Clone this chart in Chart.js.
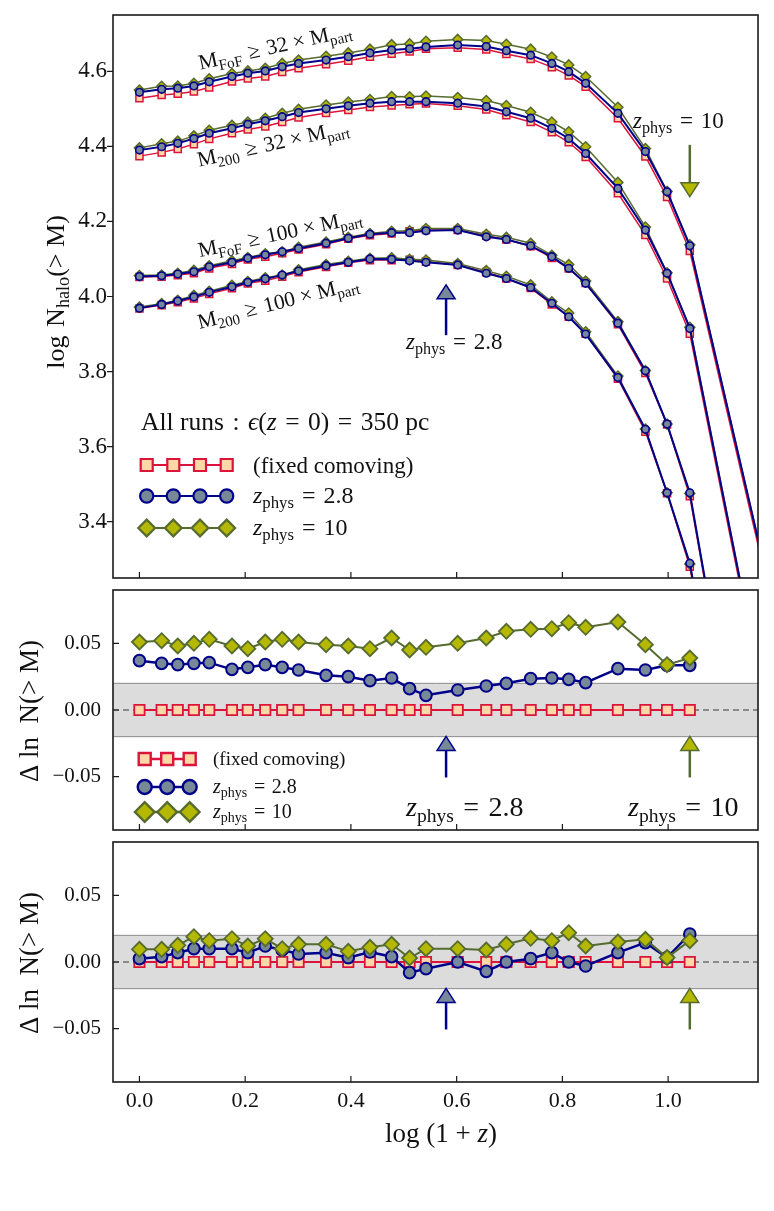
<!DOCTYPE html>
<html>
<head>
<meta charset="utf-8">
<script src="https://cdn.jsdelivr.net/npm/chart.js@4.4.0/dist/chart.umd.min.js"></script>
<style>
  body { margin: 0; background: #fff; width: 774px; height: 1211px; position: relative; overflow: hidden; }
  canvas { position: absolute; left: 0; top: 0; }
</style>
</head>
<body>
<canvas id="topChart" width="774" height="1211"></canvas>
<canvas id="midChart" width="774" height="1211"></canvas>
<canvas id="botChart" width="774" height="1211"></canvas>
<script>
// snapshot positions, log(1+z); the last one of the top panel lies beyond the frame
const logZ = [0, 0.042, 0.0725, 0.103, 0.132, 0.175, 0.205, 0.238, 0.270, 0.301, 0.353, 0.395, 0.436, 0.477,
              0.511, 0.542, 0.602, 0.656, 0.694, 0.740, 0.780, 0.812, 0.844, 0.905, 0.957, 0.998, 1.041];
const logZTop = logZ.concat([1.23]);

// top panel: log N_halo(>M)
const fof32Comov = [4.528, 4.537, 4.540, 4.546, 4.557, 4.573, 4.581, 4.586, 4.598, 4.608, 4.619, 4.628, 4.639, 4.647,
                    4.653, 4.660, 4.663, 4.658, 4.646, 4.633, 4.611, 4.589, 4.559, 4.475, 4.373, 4.265, 4.121, 2.975];
const fof32Z28   = [4.544, 4.552, 4.555, 4.561, 4.572, 4.586, 4.595, 4.601, 4.612, 4.621, 4.630, 4.639, 4.649, 4.657,
                    4.660, 4.665, 4.670, 4.666, 4.655, 4.643, 4.621, 4.599, 4.568, 4.488, 4.386, 4.279, 4.135, 2.990];
const fof32Z10   = [4.550, 4.560, 4.561, 4.568, 4.580, 4.594, 4.601, 4.608, 4.621, 4.630, 4.640, 4.649, 4.659, 4.671,
                    4.673, 4.680, 4.685, 4.682, 4.672, 4.659, 4.638, 4.617, 4.586, 4.504, 4.394, 4.280, 4.138, 2.992];

const m200_32Comov = [4.374, 4.384, 4.393, 4.406, 4.420, 4.435, 4.445, 4.453, 4.465, 4.477, 4.489, 4.497, 4.505, 4.509,
                      4.512, 4.514, 4.508, 4.498, 4.483, 4.465, 4.438, 4.411, 4.372, 4.275, 4.164, 4.048, 3.901, 2.566];
const m200_32Z28   = [4.390, 4.399, 4.408, 4.421, 4.435, 4.448, 4.459, 4.468, 4.479, 4.490, 4.500, 4.508, 4.515, 4.519,
                      4.519, 4.519, 4.515, 4.506, 4.492, 4.475, 4.448, 4.421, 4.381, 4.288, 4.177, 4.062, 3.915, 2.580];
const m200_32Z10   = [4.396, 4.407, 4.414, 4.428, 4.443, 4.456, 4.465, 4.475, 4.488, 4.499, 4.510, 4.518, 4.525, 4.533,
                      4.532, 4.534, 4.530, 4.522, 4.509, 4.491, 4.465, 4.439, 4.399, 4.304, 4.185, 4.063, 3.918, 2.583];

const fof100Comov = [4.052, 4.053, 4.057, 4.062, 4.075, 4.087, 4.099, 4.106, 4.115, 4.125, 4.139, 4.154, 4.163, 4.168,
                     4.174, 4.177, 4.177, 4.162, 4.152, 4.134, 4.103, 4.075, 4.036, 3.926, 3.796, 3.659, 3.468, 1.951];
const fof100Z28   = [4.053, 4.055, 4.060, 4.066, 4.079, 4.091, 4.102, 4.111, 4.119, 4.128, 4.142, 4.155, 4.166, 4.170,
                     4.170, 4.175, 4.177, 4.159, 4.152, 4.135, 4.106, 4.075, 4.035, 3.929, 3.802, 3.660, 3.477, 1.960];
const fof100Z10   = [4.056, 4.057, 4.062, 4.070, 4.082, 4.095, 4.104, 4.114, 4.119, 4.131, 4.145, 4.158, 4.168, 4.174,
                     4.175, 4.181, 4.181, 4.166, 4.158, 4.142, 4.110, 4.085, 4.041, 3.933, 3.803, 3.660, 3.475, 1.958];

const m200_100Comov = [3.968, 3.977, 3.985, 3.995, 4.007, 4.022, 4.035, 4.042, 4.053, 4.065, 4.079, 4.090, 4.097, 4.097,
                       4.098, 4.093, 4.084, 4.065, 4.048, 4.023, 3.979, 3.946, 3.901, 3.781, 3.640, 3.476, 3.280, 1.841];
const m200_100Z28   = [3.969, 3.979, 3.988, 3.999, 4.011, 4.026, 4.038, 4.047, 4.057, 4.068, 4.082, 4.091, 4.100, 4.099,
                       4.095, 4.091, 4.084, 4.062, 4.048, 4.024, 3.982, 3.946, 3.900, 3.784, 3.646, 3.477, 3.289, 1.850];
const m200_100Z10   = [3.972, 3.981, 3.990, 4.003, 4.014, 4.030, 4.040, 4.050, 4.057, 4.071, 4.085, 4.094, 4.102, 4.103,
                       4.099, 4.097, 4.088, 4.069, 4.054, 4.031, 3.986, 3.956, 3.906, 3.788, 3.647, 3.477, 3.287, 1.848];

// middle panel: Delta ln N(>M)
const midComov = [0, 0, 0, 0, 0, 0, 0, 0, 0, 0, 0, 0, 0, 0, 0, 0, 0, 0, 0, 0, 0, 0, 0, 0, 0, 0, 0];
const midZ28 = [0.037, 0.035, 0.034, 0.035, 0.0355, 0.0305, 0.032, 0.034, 0.032, 0.030, 0.026, 0.025, 0.022, 0.024,
                0.016, 0.011, 0.015, 0.018, 0.020, 0.0235, 0.024, 0.023, 0.0205, 0.031, 0.030, 0.0335, 0.0335];
const midZ10 = [0.051, 0.052, 0.048, 0.050, 0.053, 0.048, 0.046, 0.051, 0.053, 0.051, 0.049, 0.048, 0.046, 0.054,
                0.045, 0.047, 0.050, 0.054, 0.059, 0.0605, 0.061, 0.0655, 0.062, 0.066, 0.049, 0.034, 0.039];

// bottom panel: Delta ln N(>M)
const botComov = [0, 0, 0, 0, 0, 0, 0, 0, 0, 0, 0, 0, 0, 0, 0, 0, 0, 0, 0, 0, 0, 0, 0, 0, 0, 0, 0];
const botZ28 = [0.0025, 0.004, 0.007, 0.010, 0.010, 0.010, 0.007, 0.012, 0.009, 0.006, 0.007, 0.0033, 0.0075, 0.004,
                -0.008, -0.005, 0.000, -0.007, 0.000, 0.0025, 0.007, 0.000, -0.003, 0.007, 0.0145, 0.0033, 0.021];
const botZ10 = [0.0095, 0.0095, 0.0125, 0.019, 0.016, 0.0175, 0.012, 0.0175, 0.010, 0.0133, 0.0133, 0.008, 0.011, 0.0133,
                0.003, 0.010, 0.010, 0.009, 0.0133, 0.0178, 0.016, 0.022, 0.012, 0.015, 0.017, 0.0033, 0.016];

// ticks
const xTicks = [0, 0.2, 0.4, 0.6, 0.8, 1.0];
const topYTicks = [3.4, 3.6, 3.8, 4.0, 4.2, 4.4, 4.6];
const resYTicks = [-0.05, 0, 0.05];

// markers for z_phys (log(1+z)) and the arrows: [tip, tail]
const zPhys28 = 0.58;
const zPhys10 = 1.041;
const topArrow28 = [4.031, 3.897];
const topArrow10 = [4.266, 4.404];
const resArrow = [-0.0198, -0.0506];
const BAND = 0.02;

const FONT = '"Liberation Serif", "Times New Roman", serif';
const SP = '\u2004'; // a bit wider than a space, like TeX math spacing

const STY = {
  comov: { line: '#dc143c', fill: '#fed8a6', shape: 'rect' },
  z28: { line: '#00008b', fill: '#778899', shape: 'circle' },
  z10: { line: '#556b2f', fill: '#b5b800', shape: 'rectRot' }
};

function series(xs, ys, st, lw, r, pbw, order) {
  return {
    data: xs.map((x, i) => ({ x: x, y: ys[i] })),
    showLine: true,
    borderColor: st.line,
    backgroundColor: st.fill,
    pointBorderColor: st.line,
    pointBackgroundColor: st.fill,
    borderWidth: lw,
    pointStyle: st.shape,
    pointRadius: r,
    pointBorderWidth: pbw,
    order: order
  };
}

function fontFor(kind, size) {
  let s = kind === 's' ? size * 0.7 : size;
  return (kind === 'i' ? 'italic ' : '') + s.toFixed(1) + 'px ' + FONT;
}

// parts: [text, 'r' | 'i' | 's'] ; y is the vertical middle of the text
function drawRich(ctx, parts, x, y, size, align, angleDeg) {
  ctx.save();
  ctx.translate(x, y);
  ctx.rotate((angleDeg || 0) * Math.PI / 180);
  ctx.fillStyle = '#111';
  ctx.textBaseline = 'alphabetic';
  ctx.textAlign = 'left';
  let w = 0;
  parts.forEach(p => { ctx.font = fontFor(p[1], size); w += ctx.measureText(p[0]).width; });
  let cx = align === 'center' ? -w / 2 : (align === 'right' ? -w : 0);
  parts.forEach(p => {
    ctx.font = fontFor(p[1], size);
    let dy = p[1] === 's' ? size * 0.22 : 0;
    ctx.fillText(p[0], cx, size * 0.33 + dy);
    cx += ctx.measureText(p[0]).width;
  });
  ctx.restore();
}

function drawArrow(ctx, px, tipY, tailY, st) {
  let dir = tipY > tailY ? 1 : -1;
  let baseY = tipY - dir * 14;
  ctx.save();
  ctx.strokeStyle = st.line;
  ctx.lineWidth = 2.5;
  ctx.beginPath();
  ctx.moveTo(px, tailY);
  ctx.lineTo(px, baseY);
  ctx.stroke();
  ctx.beginPath();
  ctx.moveTo(px, tipY);
  ctx.lineTo(px - 9, baseY);
  ctx.lineTo(px + 9, baseY);
  ctx.closePath();
  ctx.fillStyle = st.fill;
  ctx.fill();
  ctx.lineWidth = 1.5;
  ctx.stroke();
  ctx.restore();
}

function legendRow(ctx, st, xs, y, r, lw) {
  ctx.save();
  ctx.strokeStyle = st.line;
  ctx.lineWidth = lw;
  ctx.beginPath();
  ctx.moveTo(xs[0], y);
  ctx.lineTo(xs[xs.length - 1], y);
  ctx.stroke();
  ctx.fillStyle = st.fill;
  xs.forEach(x => Chart.helpers.drawPoint(ctx, { pointStyle: st.shape, radius: r, rotation: 0, borderWidth: lw }, x, y));
  ctx.restore();
}

const zLabel = v => [['z', 'i'], ['phys', 's'], [SP + '=' + SP + v, 'r']];
const massLabel = (kind, n) => [['M', 'r'], [kind, 's'], [SP + '\u2265' + SP + n + ' \u00d7 M', 'r'], ['part', 's']];

const bandPlugin = {
  id: 'band',
  beforeDatasetsDraw(chart) {
    const { ctx, chartArea: a, scales: { y } } = chart;
    let t = y.getPixelForValue(BAND), b = y.getPixelForValue(-BAND), z = y.getPixelForValue(0);
    ctx.save();
    ctx.fillStyle = '#dcdcdc';
    ctx.fillRect(a.left, t, a.right - a.left, b - t);
    ctx.strokeStyle = '#8a8a8a';
    ctx.lineWidth = 1;
    ctx.beginPath();
    ctx.moveTo(a.left, t); ctx.lineTo(a.right, t);
    ctx.moveTo(a.left, b); ctx.lineTo(a.right, b);
    ctx.stroke();
    ctx.strokeStyle = '#707070';
    ctx.lineWidth = 1.5;
    ctx.setLineDash([6, 4]);
    ctx.beginPath();
    ctx.moveTo(a.left, z); ctx.lineTo(a.right, z);
    ctx.stroke();
    ctx.restore();
  }
};

// frame and tick marks; yDir = 1 draws the y ticks inward, -1 outward
function framePlugin(yTicks, yDir) {
  return {
    id: 'frame',
    afterDatasetsDraw(chart) {
      const { ctx, chartArea: a, scales: { x, y } } = chart;
      ctx.save();
      ctx.strokeStyle = '#1a1a1a';
      ctx.lineWidth = 1.2;
      ctx.beginPath();
      xTicks.forEach(v => { let px = x.getPixelForValue(v); ctx.moveTo(px, a.bottom); ctx.lineTo(px, a.bottom - 6); });
      yTicks.forEach(v => { let py = y.getPixelForValue(v); ctx.moveTo(a.left, py); ctx.lineTo(a.left + 6 * yDir, py); });
      ctx.stroke();
      ctx.lineWidth = 1.6;
      ctx.strokeRect(a.left, a.top, a.right - a.left, a.bottom - a.top);
      ctx.restore();
    }
  };
}

function notesPlugin(draw) {
  return { id: 'notes', afterDraw(chart) { draw(chart.ctx, chart.scales.x, chart.scales.y); } };
}

function makeChart(id, datasets, yAxis, yTicks, yDir, padding, xAxis, extraPlugins) {
  return new Chart(document.getElementById(id), {
    type: 'scatter',
    data: { datasets: datasets },
    options: {
      responsive: false,
      animation: false,
      events: [],
      layout: { autoPadding: false, padding: padding },
      scales: {
        x: Object.assign({
          type: 'linear', min: -0.05, max: 1.17,
          grid: { display: false, drawTicks: false },
          border: { display: false },
          afterBuildTicks: s => { s.ticks = xTicks.map(v => ({ value: v })); }
        }, xAxis),
        y: Object.assign({
          type: 'linear',
          grid: { display: false, drawTicks: false },
          border: { display: false },
          afterBuildTicks: s => { s.ticks = yTicks.map(v => ({ value: v })); },
          // fixed axis width, no extra room for the end labels
          afterFit: s => { s.width = 113; s.paddingTop = 0; s.paddingBottom = 0; }
        }, yAxis)
      },
      plugins: { legend: { display: false }, tooltip: { enabled: false } }
    },
    plugins: extraPlugins.concat([framePlugin(yTicks, yDir)])
  });
}

const resFmt = v => (v < 0 ? '\u2212' : '') + Math.abs(v).toFixed(2);
const resYAxis = {
  min: -0.09, max: 0.09,
  ticks: { callback: resFmt, color: '#111', padding: 12, font: { family: FONT, size: 21 } }
};

// ---------- top panel ----------
const topSets = [];
[[fof32Comov, fof32Z28, fof32Z10], [m200_32Comov, m200_32Z28, m200_32Z10],
 [fof100Comov, fof100Z28, fof100Z10], [m200_100Comov, m200_100Z28, m200_100Z10]].forEach(g => {
  topSets.push(series(logZTop, g[0], STY.comov, 1.5, 5, 1.5, 3));
  topSets.push(series(logZTop, g[2], STY.z10, 1.5, 5, 1.5, 2));
  topSets.push(series(logZTop, g[1], STY.z28, 2, 3.8, 1.6, 1));
});

makeChart('topChart', topSets, {
    min: 3.25, max: 4.75,
    ticks: { callback: v => v.toFixed(1), color: '#111', padding: 6, font: { family: FONT, size: 23 } }
  }, topYTicks, -1,
  { left: 0, right: 16, top: 15, bottom: 633 }, { display: false },
  [notesPlugin((ctx, x, y) => {
    drawRich(ctx, massLabel('FoF', '32'), 275, 46, 21.5, 'center', -12.5);
    drawRich(ctx, massLabel('200', '32'), 273, 143, 21.5, 'center', -12.5);
    drawRich(ctx, massLabel('FoF', '100'), 280, 233, 21.5, 'center', -12);
    drawRich(ctx, massLabel('200', '100'), 278, 302, 21.5, 'center', -14);
    drawArrow(ctx, x.getPixelForValue(zPhys28), y.getPixelForValue(topArrow28[0]), y.getPixelForValue(topArrow28[1]), STY.z28);
    drawArrow(ctx, x.getPixelForValue(zPhys10), y.getPixelForValue(topArrow10[0]), y.getPixelForValue(topArrow10[1]), STY.z10);
    drawRich(ctx, zLabel('10'), 633, 120, 23, 'left');
    drawRich(ctx, zLabel('2.8'), 406, 341, 23, 'left');
    // legend
    drawRich(ctx, [['All runs' + SP + ':' + SP, 'r'], ['\u03f5', 'i'], ['(', 'r'], ['z', 'i'],
                   [SP + '=' + SP + '0)' + SP + '=' + SP + '350 pc', 'r']], 141, 422, 25.5, 'left');
    legendRow(ctx, STY.comov, [146.7, 173.3, 200, 226.7], 465, 8.5, 2.2);
    legendRow(ctx, STY.z28, [146.7, 173.3, 200, 226.7], 496, 6.6, 2.2);
    legendRow(ctx, STY.z10, [146.7, 173.3, 200, 226.7], 528, 8.4, 2.2);
    drawRich(ctx, [['(fixed comoving)', 'r']], 253, 465, 23, 'left');
    drawRich(ctx, zLabel('2.8'), 253, 495, 24, 'left');
    drawRich(ctx, zLabel('10'), 253, 527, 24, 'left');
    drawRich(ctx, [['log' + SP + 'N', 'r'], ['halo', 's'], ['(> M)', 'r']], 55, 292, 26, 'center', -90);
  })]);

// ---------- middle panel ----------
makeChart('midChart', [
  series(logZ, midComov, STY.comov, 2, 7.3, 1.8, 3),
  series(logZ, midZ28, STY.z28, 2.5, 5.8, 2, 2),
  series(logZ, midZ10, STY.z10, 2, 7.5, 1.8, 1)
], resYAxis, resYTicks, 1,
  { left: 0, right: 16, top: 590, bottom: 381 }, { display: false },
  [bandPlugin, notesPlugin((ctx, x, y) => {
    drawArrow(ctx, x.getPixelForValue(zPhys28), y.getPixelForValue(resArrow[0]), y.getPixelForValue(resArrow[1]), STY.z28);
    drawArrow(ctx, x.getPixelForValue(zPhys10), y.getPixelForValue(resArrow[0]), y.getPixelForValue(resArrow[1]), STY.z10);
    drawRich(ctx, zLabel('2.8'), 406, 807, 28, 'left');
    drawRich(ctx, zLabel('10'), 628, 807, 28, 'left');
    legendRow(ctx, STY.comov, [144.7, 167.2, 189.7], 759, 8.5, 2.4);
    legendRow(ctx, STY.z28, [144.7, 167.2, 189.7], 787, 7, 2.4);
    legendRow(ctx, STY.z10, [144.7, 167.2, 189.7], 812, 9.8, 2.4);
    drawRich(ctx, [['(fixed comoving)', 'r']], 213, 759, 19, 'left');
    drawRich(ctx, zLabel('2.8'), 213, 786, 20, 'left');
    drawRich(ctx, zLabel('10'), 213, 811, 20, 'left');
    drawRich(ctx, [['\u0394 ln  N(> M)', 'r']], 29, 711, 27, 'center', -90);
  })]);

// ---------- bottom panel ----------
makeChart('botChart', [
  series(logZ, botComov, STY.comov, 2, 7.3, 1.8, 3),
  series(logZ, botZ28, STY.z28, 2.5, 5.8, 2, 2),
  series(logZ, botZ10, STY.z10, 2, 7.5, 1.8, 1)
], resYAxis, resYTicks, 1,
  { left: 0, right: 16, top: 842, bottom: 0 },
  {
    display: true,
    afterFit: s => { s.height = 129; },
    ticks: { callback: v => v.toFixed(1), color: '#111', padding: 6, font: { family: FONT, size: 22 } }
  },
  [bandPlugin, notesPlugin((ctx, x, y) => {
    drawArrow(ctx, x.getPixelForValue(zPhys28), y.getPixelForValue(resArrow[0]), y.getPixelForValue(resArrow[1]), STY.z28);
    drawArrow(ctx, x.getPixelForValue(zPhys10), y.getPixelForValue(resArrow[0]), y.getPixelForValue(resArrow[1]), STY.z10);
    drawRich(ctx, [['\u0394 ln  N(> M)', 'r']], 29, 963, 27, 'center', -90);
    drawRich(ctx, [['log (1 + ', 'r'], ['z', 'i'], [')', 'r']], 441, 1133, 27, 'center');
  })]);
</script>
</body>
</html>
